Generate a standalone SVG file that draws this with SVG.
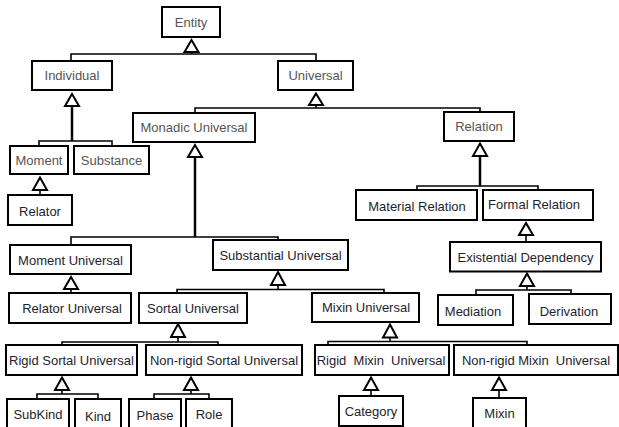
<svg xmlns="http://www.w3.org/2000/svg" width="619" height="427" viewBox="0 0 619 427">
<style>
.box rect{fill:#fff;stroke:#000;stroke-width:2}
text{font-family:"Liberation Sans",Arial,sans-serif;font-size:13px;text-anchor:middle;fill:#1e1e2e}
.g text{fill:#555}
.c line,.c polyline{stroke:#000;stroke-width:1.6;fill:none}
.c .thick{stroke-width:2.5}
.c path{fill:#fff;stroke:#000;stroke-width:2}
</style>
<rect width="619" height="427" fill="#fff"/>
<g class="c">
<!-- Entity -->
<line x1="191.5" y1="52" x2="191.5" y2="54"/>
<polyline points="71,61 71,54 316,54 316,61"/>
<path d="M191.5,40 L198.5,52 L184.5,52 Z"/>
<!-- Individual -->
<line class="thick" x1="72" y1="106" x2="72" y2="141"/>
<polyline points="39,146 39,141 112,141 112,146"/>
<path d="M72,94 L79,106 L65,106 Z"/>
<!-- Moment -->
<line x1="40" y1="190" x2="40" y2="195"/>
<path d="M40,177.5 L47,190 L33,190 Z"/>
<!-- Universal -->
<line x1="316" y1="105" x2="316" y2="108"/>
<polyline points="195,113 195,108 480,108 480,112"/>
<path d="M316,93.5 L323,105 L309,105 Z"/>
<!-- Monadic -->
<line class="thick" x1="195" y1="157" x2="195" y2="237"/>
<polyline points="71,245 71,237 278,237 278,240"/>
<path d="M195,145 L202,157 L188,157 Z"/>
<!-- Relation -->
<line class="thick" x1="480" y1="156" x2="480" y2="186"/>
<polyline points="417,190 417,186 538,186 538,190"/>
<path d="M480,143.5 L487,156 L473,156 Z"/>
<!-- Formal Relation -->
<line x1="526" y1="235" x2="526" y2="242"/>
<path d="M526,223 L533,235 L519,235 Z"/>
<!-- Existential -->
<line x1="527" y1="286" x2="527" y2="290"/>
<polyline points="476,295 476,290 571,290 571,294"/>
<path d="M527,273.5 L534,286 L520,286 Z"/>
<!-- Moment Universal -->
<line x1="71" y1="289" x2="71" y2="293"/>
<path d="M71,277 L78,289 L64,289 Z"/>
<!-- Substantial -->
<line x1="278" y1="285" x2="278" y2="289.5"/>
<polyline points="177,293 177,289.5 384,289.5 384,293"/>
<path d="M278,272 L285,285 L271,285 Z"/>
<!-- Sortal -->
<line x1="178" y1="337" x2="178" y2="342"/>
<polyline points="62,345 62,342 218,342 218,345"/>
<path d="M178,324 L185,337 L171,337 Z"/>
<!-- Mixin Universal -->
<line x1="390" y1="337.5" x2="390" y2="341.5"/>
<polyline points="328,345 328,341.5 527,341.5 527,345"/>
<path d="M390,324.5 L397,337.5 L383,337.5 Z"/>
<!-- Rigid Sortal -->
<line x1="62" y1="390" x2="62" y2="394"/>
<polyline points="37,399 37,394 98,394 98,399"/>
<path d="M62,377.5 L69,390 L55,390 Z"/>
<!-- Non-rigid Sortal -->
<line x1="191" y1="390" x2="191" y2="394"/>
<polyline points="154,399 154,394 209,394 209,399"/>
<path d="M191,377.5 L198,390 L184,390 Z"/>
<!-- Rigid Mixin -->
<line x1="371" y1="390" x2="371" y2="396"/>
<path d="M371,377.5 L378,390 L364,390 Z"/>
<!-- Non-rigid Mixin -->
<line x1="499" y1="390" x2="499" y2="398"/>
<path d="M499,377.5 L506,390 L492,390 Z"/>
</g>
<g id="entity" class="box g"><rect x="162" y="7" width="58" height="30"/><text x="191" y="26.5">Entity</text></g>
<g id="individual" class="box g"><rect x="32" y="61" width="80" height="29"/><text x="72" y="80">Individual</text></g>
<g id="universal" class="box g"><rect x="278" y="61" width="75" height="29"/><text x="315.5" y="80">Universal</text></g>
<g id="moment" class="box g"><rect x="10" y="146" width="58" height="28"/><text x="39" y="165">Moment</text></g>
<g id="substance" class="box g"><rect x="74" y="146" width="75" height="28"/><text x="111.5" y="165">Substance</text></g>
<g id="relator" class="box"><rect x="8" y="195" width="64" height="30"/><text x="40" y="216">Relator</text></g>
<g id="monadic-universal" class="box g"><rect x="133" y="113" width="122" height="29"/><text x="194" y="132">Monadic Universal</text></g>
<g id="relation" class="box g"><rect x="444" y="112" width="70" height="29"/><text x="479" y="131">Relation</text></g>
<g id="material-relation" class="box"><rect x="356" y="190" width="121" height="30"/><text x="417" y="211">Material Relation</text></g>
<g id="formal-relation" class="box"><rect x="483" y="190" width="110" height="30"/><text x="534" y="209">Formal Relation</text></g>
<g id="existential-dependency" class="box"><rect x="450" y="242" width="151" height="29.5"/><text x="525.5" y="261.5">Existential Dependency</text></g>
<g id="mediation" class="box"><rect x="438" y="295" width="75" height="30"/><text x="473" y="316">Mediation</text></g>
<g id="derivation" class="box"><rect x="529" y="294" width="82" height="30"/><text x="569" y="316">Derivation</text></g>
<g id="moment-universal" class="box"><rect x="10" y="245" width="121" height="29"/><text x="70.5" y="265">Moment Universal</text></g>
<g id="relator-universal" class="box"><rect x="9" y="293" width="122" height="30"/><text x="72" y="312.5">Relator Universal</text></g>
<g id="substantial-universal" class="box"><rect x="213" y="240" width="135" height="30"/><text x="280.5" y="260">Substantial Universal</text></g>
<g id="sortal-universal" class="box"><rect x="139" y="293" width="108" height="30"/><text x="193" y="313">Sortal Universal</text></g>
<g id="mixin-universal" class="box"><rect x="312" y="293" width="107" height="29"/><text x="366" y="312">Mixin Universal</text></g>
<g id="rigid-sortal-universal" class="box"><rect x="6" y="345" width="131" height="30"/><text x="71.5" y="365">Rigid Sortal Universal</text></g>
<g id="non-rigid-sortal-universal" class="box"><rect x="146" y="345" width="156" height="30"/><text x="224" y="365">Non-rigid Sortal Universal</text></g>
<g id="rigid-mixin-universal" class="box"><rect x="315" y="345" width="134" height="30"/><text x="381" y="365" xml:space="preserve">Rigid  Mixin  Universal</text></g>
<g id="non-rigid-mixin-universal" class="box"><rect x="454" y="345" width="164" height="30"/><text x="536" y="365" xml:space="preserve">Non-rigid Mixin  Universal</text></g>
<g id="subkind" class="box"><rect x="7" y="399" width="62" height="40"/><text x="38" y="419">SubKind</text></g>
<g id="kind" class="box"><rect x="75" y="399" width="46" height="40"/><text x="98" y="421">Kind</text></g>
<g id="phase" class="box"><rect x="129" y="399" width="52" height="40"/><text x="155" y="420">Phase</text></g>
<g id="role" class="box"><rect x="186" y="399" width="46" height="40"/><text x="209" y="419">Role</text></g>
<g id="category" class="box"><rect x="339" y="396" width="64" height="30"/><text x="371" y="416">Category</text></g>
<g id="mixin" class="box"><rect x="473" y="398" width="53" height="40"/><text x="499.5" y="418">Mixin</text></g>
</svg>
